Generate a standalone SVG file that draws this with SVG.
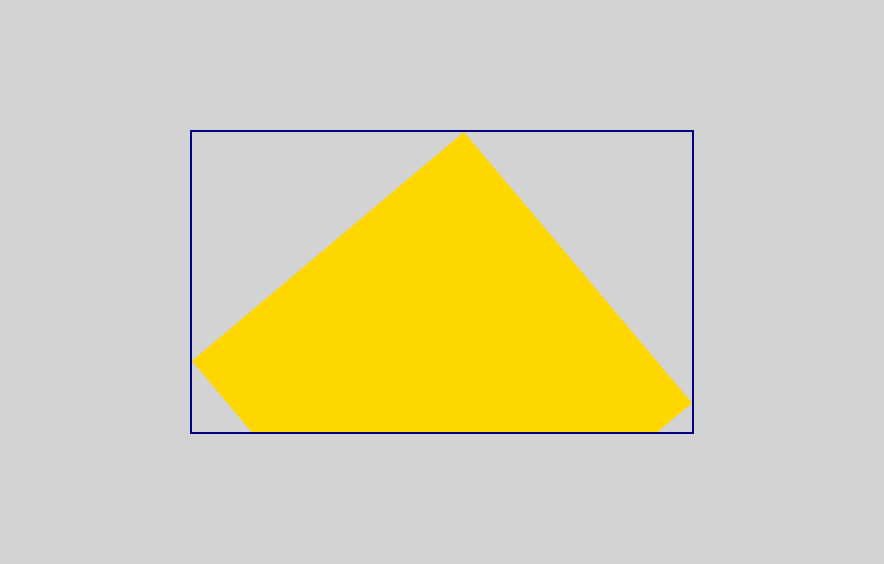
<svg xmlns="http://www.w3.org/2000/svg" width="884" height="564" viewBox="0 0 884 564">
<defs>
<clipPath id="frameClip"><rect x="191" y="131" width="502" height="302"/></clipPath>
</defs>
<rect x="0" y="0" width="884" height="564" fill="#d3d3d3"/>
<g id="shape" clip-path="url(#frameClip)">
<polygon points="464,132 692,403 420,632 192,361" fill="#ffd700"/>
</g>
<g id="frame">
<rect x="191" y="131" width="502" height="302" fill="none" stroke="#000080" stroke-width="2"/>
</g>
</svg>
